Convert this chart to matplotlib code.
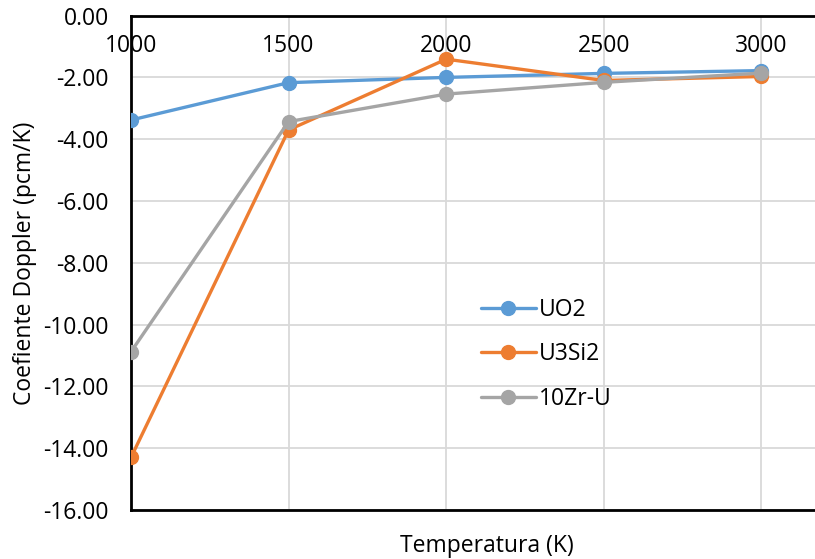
import matplotlib
matplotlib.use('Agg')
import matplotlib.pyplot as plt

# ── Data ──────────────────────────────────────────────────────────────────────
temps = [1000, 1500, 2000, 2500, 3000]
uo2 = [-3.38, -2.17, -2.00, -1.87, -1.78]
u3si2 = [-14.30, -3.70, -1.41, -2.10, -1.97]
zr_u = [-10.88, -3.43, -2.54, -2.16, -1.86]
series_names = ['UO2', 'U3Si2', '10Zr-U']
y_ticks = [0, -2, -4, -6, -8, -10, -12, -14, -16]

colors = ['#5B9BD5', '#ED7D31', '#A5A5A5']
plt.rcParams['font.family'] = ['Open Sans', 'DejaVu Sans']
fs = 16.5

fig = plt.figure(figsize=(8.15, 5.59), dpi=100)
ax = fig.add_axes([131 / 815, 1 - 510 / 559, 1 - 131 / 815, (510 - 15.6) / 559])

for vals, name, c in zip([uo2, u3si2, zr_u], series_names, colors):
    ax.plot(temps, vals, color=c, lw=2.4, marker='o', ms=10, label=name,
            solid_capstyle='round', zorder=3)

ax.set_xlim(1000, 3170)
ax.set_ylim(-16, 0)
ax.set_yticks(y_ticks)
ax.set_yticklabels([f'{v:.2f}' for v in y_ticks], fontsize=fs)
ax.tick_params(axis='y', length=0, pad=16)
ax.set_xticks(temps)
ax.tick_params(axis='x', length=0, labelbottom=False)
ax.grid(True, color='#D9D9D9', lw=1.3, zorder=0)

for side in ['top', 'bottom', 'left']:
    ax.spines[side].set_linewidth(2)
    ax.spines[side].set_color('black')
ax.spines['right'].set_visible(False)

# x labels sit just under the axis line at y=0
for t in temps:
    ax.annotate(str(t), xy=(t, 0), xytext=(0, -22), textcoords='offset points',
                ha='center', va='center', fontsize=fs)

fig.text(487 / 815, 1 - 546 / 559, 'Temperatura (K)', ha='center', va='center', fontsize=fs)
fig.text(25 / 815, 1 - 263 / 559, 'Coefiente Doppler (pcm/K)', ha='center', va='center',
         rotation=90, fontsize=fs)

leg = ax.legend(loc='upper left', frameon=False, fontsize=fs, handlelength=2.4,
                handletextpad=0.15, labelspacing=0.9, markerscale=1.0)
leg.set_bbox_to_anchor((460 / 815, 1 - 277 / 559), transform=fig.transFigure)

fig.savefig('out.png', dpi=100)
